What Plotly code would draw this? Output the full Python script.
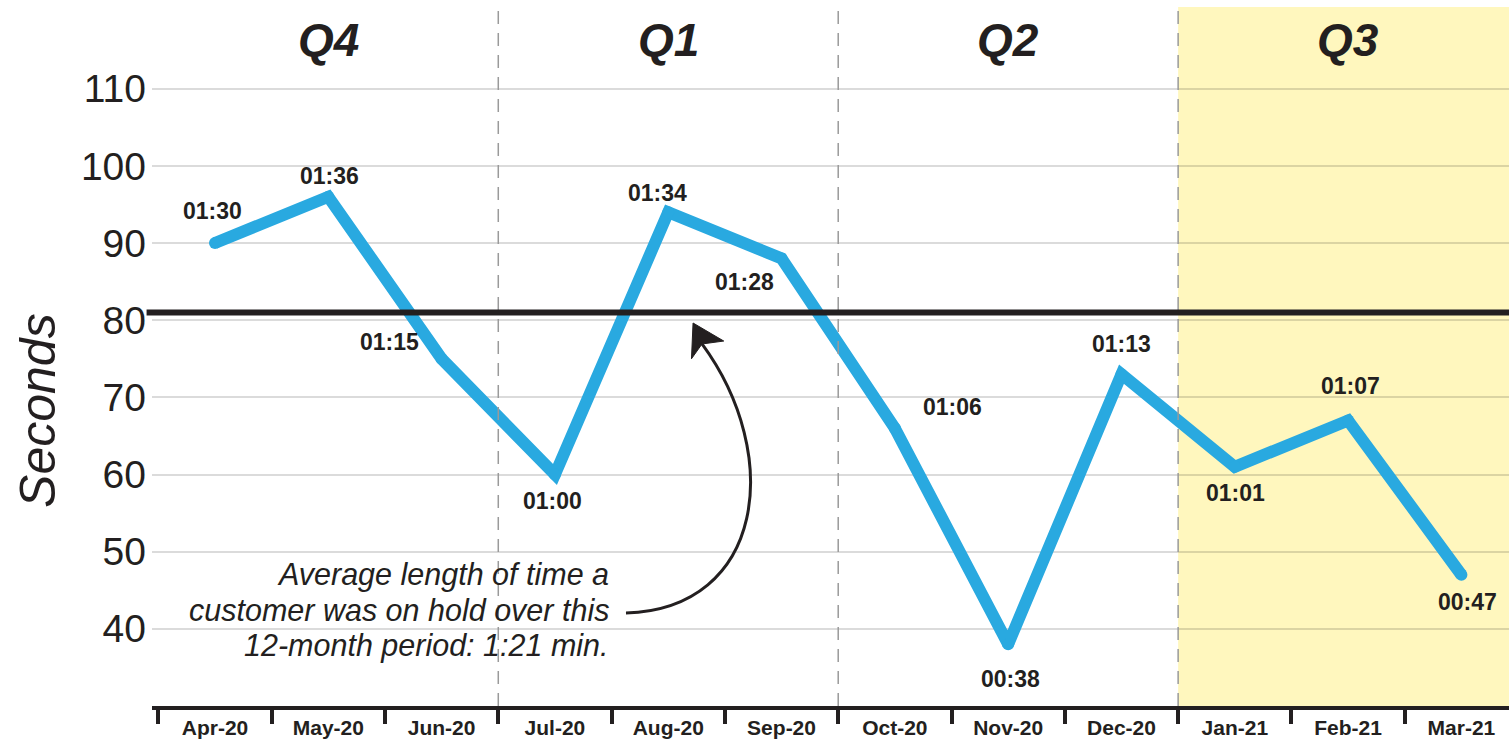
import plotly.graph_objects as go

# Monthly average hold time, in seconds
months = ["Apr-20", "May-20", "Jun-20", "Jul-20", "Aug-20", "Sep-20",
          "Oct-20", "Nov-20", "Dec-20", "Jan-21", "Feb-21", "Mar-21"]
hold_seconds = [90, 96, 75, 60, 94, 88, 66, 38, 73, 61, 67, 47]
average_seconds = 81

quarters = ["Q4", "Q1", "Q2", "Q3"]
quarter_centers = [1, 4, 7, 10]
quarter_bounds = [2.5, 5.5, 8.5]

y_ticks = [40, 50, 60, 70, 80, 90, 100, 110]

# pixel offsets (dx, dy) of each value label from its point
label_offsets = [(-3, -32), (1, -21), (-52, -17), (-2, 26), (-11, -19), (-37, 24),
                 (58, -21), (2, 35), (0, -30), (1, 26), (2, -35), (6, 27)]

note_lines = ["Average length of time a",
              "customer was on hold over this",
              "12-month period: 1:21 min."]

INK = "#231f20"
BLUE = "#29a9e0"
SANS = "Liberation Sans, Arial, Helvetica, sans-serif"


def mmss(sec):
    return f"{sec // 60:02d}:{sec % 60:02d}"


fig = go.Figure()

fig.add_trace(go.Scatter(
    x=months, y=hold_seconds, mode="lines+markers",
    line=dict(color=BLUE, width=12),
    marker=dict(color=BLUE, size=12),
    hoverinfo="skip", showlegend=False,
))

shapes = []
# highlighted current quarter
shapes.append(dict(type="rect", xref="x", yref="paper", x0=quarter_bounds[-1], x1=12,
                   y0=0, y1=0.99, fillcolor="#fff7be", line=dict(width=0), layer="below"))
# quarter separators
for b in quarter_bounds:
    shapes.append(dict(type="line", xref="x", yref="paper", x0=b, x1=b, y0=0, y1=0.99,
                       line=dict(color="#9a9a9a", width=1.5, dash="13px,9px"), layer="above"))
# 12-month average line
shapes.append(dict(type="line", xref="paper", yref="y", x0=-0.004, x1=1,
                   y0=average_seconds, y1=average_seconds,
                   line=dict(color=INK, width=6), layer="above"))

# curved pointer from the note to the average line
tail = (3.627, 42.05)
c1 = (4.85, 42.6)
c2 = (5.02, 62.5)
notch = (4.298, 76.92)
tip = (4.219, 79.64)
wing_l = (4.205, 75.0)
wing_r = (4.49, 77.3)
shapes.append(dict(type="path", xref="x", yref="y",
                   path=f"M {tail[0]},{tail[1]} C {c1[0]},{c1[1]} {c2[0]},{c2[1]} {notch[0]},{notch[1]}",
                   line=dict(color=INK, width=3), layer="above"))
shapes.append(dict(type="path", xref="x", yref="y",
                   path=f"M {tip[0]},{tip[1]} L {wing_l[0]},{wing_l[1]} L {notch[0]},{notch[1]} L {wing_r[0]},{wing_r[1]} Z",
                   fillcolor=INK, line=dict(color=INK, width=1), layer="above"))

annotations = []
for m, v, (dx, dy) in zip(months, hold_seconds, label_offsets):
    annotations.append(dict(x=m, y=v, xref="x", yref="y", text=mmss(v), showarrow=False,
                            xshift=dx, yshift=-dy,
                            font=dict(family=SANS, size=23, color=INK, weight="bold")))

for q, c in zip(quarters, quarter_centers):
    annotations.append(dict(x=c, y=0.943, xref="x", yref="paper", text=f"<b><i>{q}</i></b>",
                            showarrow=False, yanchor="middle",
                            font=dict(family=SANS, size=46, color=INK)))

for i, line in enumerate(note_lines):
    annotations.append(dict(x=3.499, y=47.0 - i * 4.6, xref="x", yref="y", text=f"<i>{line}</i>",
                            showarrow=False, xanchor="right", yanchor="middle",
                            font=dict(family=SANS, size=30.5, color=INK)))

annotations.append(dict(x=-0.084, y=0.418, xref="paper", yref="paper", text="<i>Seconds</i>",
                        textangle=-90, showarrow=False, xanchor="center", yanchor="middle",
                        font=dict(family=SANS, size=50, color=INK)))

fig.update_layout(
    width=1509, height=748,
    margin=dict(l=152, r=0, t=0, b=42),
    paper_bgcolor="white", plot_bgcolor="white",
    shapes=shapes, annotations=annotations,
    xaxis=dict(type="category", range=[-0.556, 11.42], showgrid=False,
               showline=True, linecolor=INK, linewidth=4,
               ticks="outside", tickson="boundaries", ticklen=14, tickwidth=4, tickcolor=INK,
               tickfont=dict(family=SANS, size=21, color=INK, weight="bold"),
               zeroline=False, fixedrange=True),
    yaxis=dict(range=[30, 121.5], tickvals=y_ticks, showgrid=True,
               gridcolor="rgba(0,0,0,0.14)", gridwidth=2, zeroline=False,
               showline=False, ticks="", ticklabelstandoff=5,
               tickfont=dict(family=SANS, size=39, color=INK), fixedrange=True),
    showlegend=False,
)

fig.write_html("out.html")
